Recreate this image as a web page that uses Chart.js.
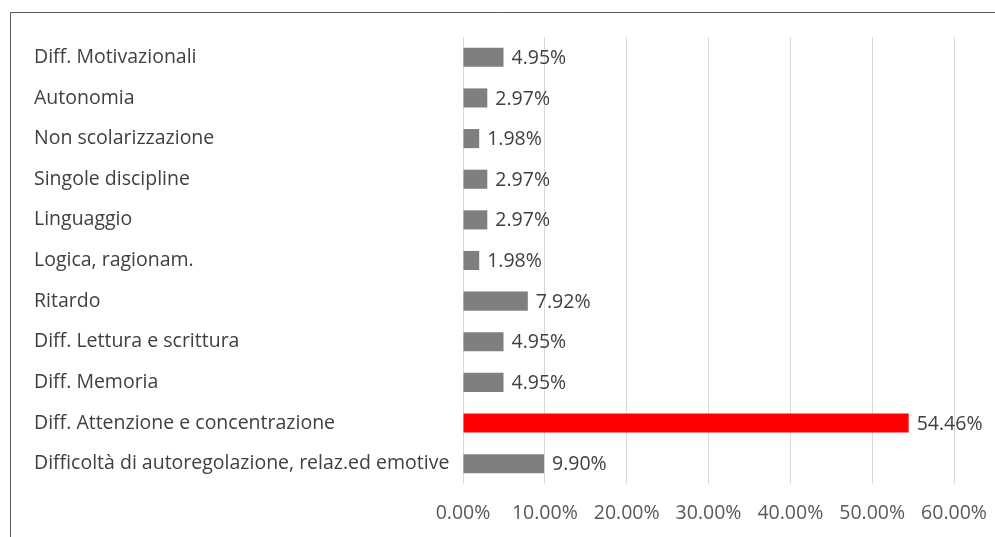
<!DOCTYPE html>
<html>
<head>
<meta charset="utf-8">
<script src="https://cdn.jsdelivr.net/npm/chart.js@4/dist/chart.umd.min.js"></script>
<style>
  html, body { margin: 0; padding: 0; background: #ffffff; }
  #wrap { width: 995px; height: 537px; position: relative; }
</style>
</head>
<body>
<div id="wrap"><canvas id="chart" width="995" height="537"></canvas></div>
<script>
// Difficoltà segnalate (percentuale sul totale)
const categories = [
  'Diff. Motivazionali',
  'Autonomia',
  'Non scolarizzazione',
  'Singole discipline',
  'Linguaggio',
  'Logica, ragionam.',
  'Ritardo',
  'Diff. Lettura e scrittura',
  'Diff. Memoria',
  'Diff. Attenzione e concentrazione',
  'Difficoltà di autoregolazione, relaz.ed emotive'
];
const percentages = [4.95, 2.97, 1.98, 2.97, 2.97, 1.98, 7.92, 4.95, 4.95, 54.46, 9.90];
const highlighted = 'Diff. Attenzione e concentrazione';
const xTicks = [0, 10, 20, 30, 40, 50, 60];

const FONT = "'Open Sans', 'Noto Sans', sans-serif";
const FONT_SIZE = 19.5;

// frame lines on the left and top edges
const framePlugin = {
  id: 'frame',
  beforeDraw(chart) {
    const ctx = chart.ctx;
    ctx.save();
    ctx.strokeStyle = '#595959';
    ctx.lineWidth = 1;
    ctx.beginPath();
    ctx.moveTo(10.5, 537);
    ctx.lineTo(10.5, 12.5);
    ctx.lineTo(995, 12.5);
    ctx.stroke();
    ctx.restore();
  }
};

// value labels at the end of each bar
const valueLabels = {
  id: 'valueLabels',
  afterDatasetsDraw(chart) {
    const ctx = chart.ctx;
    const meta = chart.getDatasetMeta(0);
    ctx.save();
    ctx.font = FONT_SIZE + 'px ' + FONT;
    ctx.fillStyle = '#404040';
    ctx.textAlign = 'left';
    ctx.textBaseline = 'middle';
    meta.data.forEach((bar, i) => {
      ctx.fillText(percentages[i].toFixed(2) + '%', bar.x + 8, bar.y + 1);
    });
    ctx.restore();
  }
};

new Chart(document.getElementById('chart'), {
  type: 'bar',
  data: {
    labels: categories,
    datasets: [{
      data: percentages,
      backgroundColor: categories.map(c => c === highlighted ? '#ff0000' : '#7f7f7f'),
      borderWidth: 0,
      barPercentage: 0.47,
      categoryPercentage: 1.0
    }]
  },
  options: {
    indexAxis: 'y',
    responsive: false,
    animation: false,
    layout: { padding: { left: 34, right: 41, top: 37, bottom: 0 } },
    plugins: { legend: { display: false }, tooltip: { enabled: false } },
    scales: {
      x: {
        min: 0, max: 60,
        afterBuildTicks(axis) { axis.ticks = xTicks.map(v => ({ value: v })); },
        afterFit(axis) {
          axis.height = 53;
          axis.paddingLeft = 0;
          axis.paddingRight = 0;
        },
        grid: { color: '#d9d9d9', lineWidth: 1, drawTicks: false },
        border: { display: false },
        ticks: {
          color: '#595959',
          font: { family: FONT, size: FONT_SIZE },
          padding: 18,
          maxRotation: 0,
          callback: v => v.toFixed(2) + '%'
        }
      },
      y: {
        grid: { display: false },
        border: { display: false },
        afterFit(axis) { axis.width = 463 - 34; },
        ticks: {
          color: '#404040',
          crossAlign: 'far',
          font: { family: FONT, size: FONT_SIZE },
          autoSkip: false
        }
      }
    }
  },
  plugins: [framePlugin, valueLabels]
});
</script>
</body>
</html>
